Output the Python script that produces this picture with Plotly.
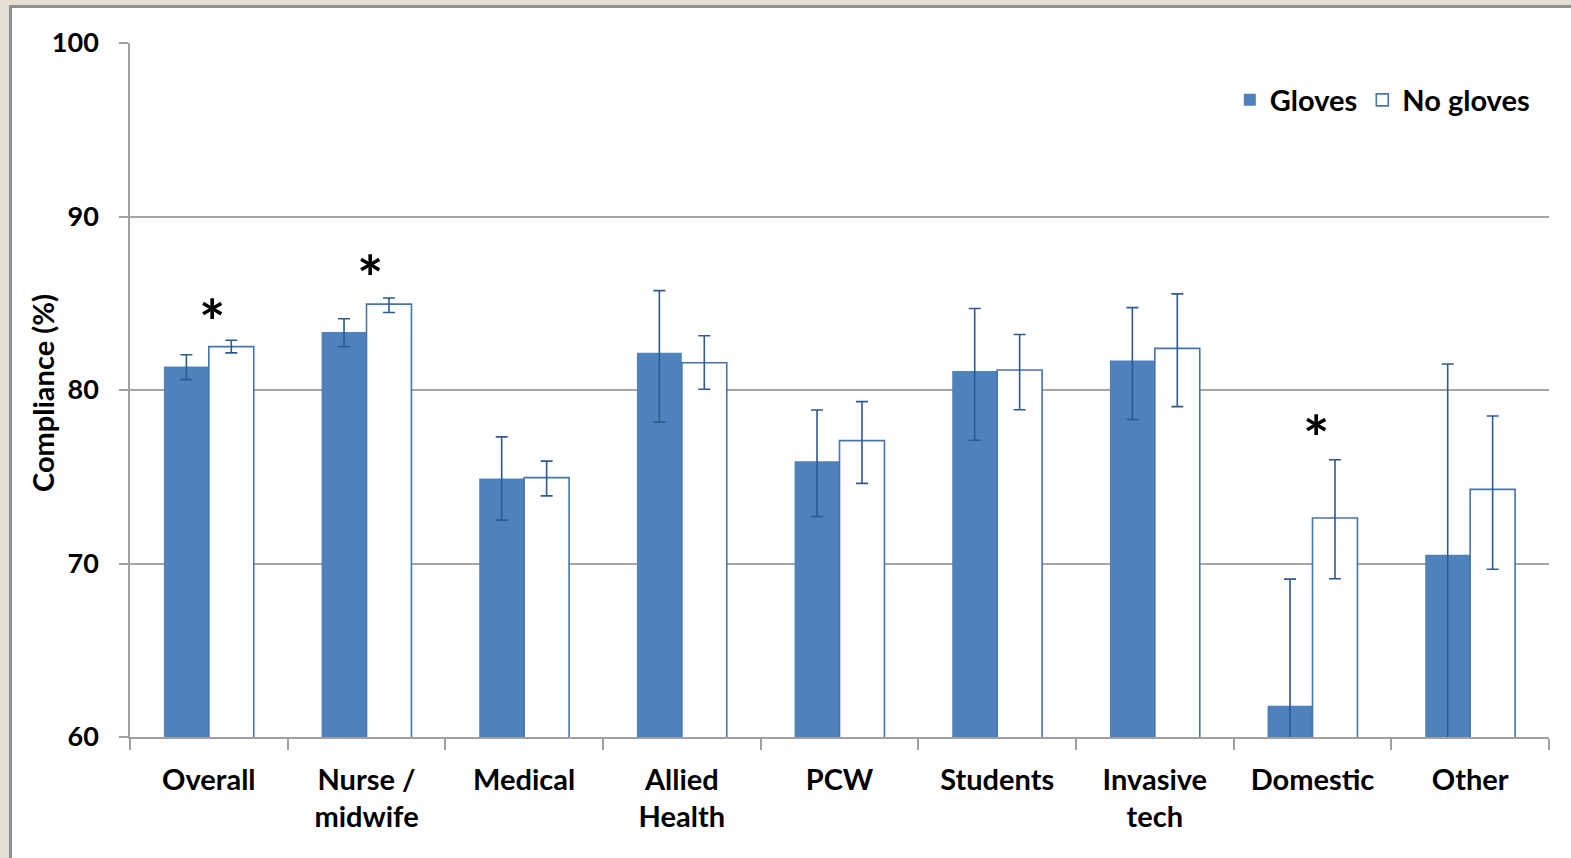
import plotly.graph_objects as go

categories = ["Overall", "Nurse /<br>midwife", "Medical", "Allied<br>Health", "PCW",
              "Students", "Invasive<br>tech", "Domestic", "Other"]
gloves = [81.35, 83.35, 74.9, 82.15, 75.9, 81.1, 81.7, 61.8, 70.5]
gloves_err_plus = [0.68, 0.76, 2.4, 3.58, 2.95, 3.6, 3.05, 7.3, 11.0]
gloves_err_minus = [0.75, 0.86, 2.4, 4.0, 3.2, 4.0, 3.4, 7.3, 11.0]
no_gloves = [82.5, 84.95, 74.95, 81.57, 77.08, 81.15, 82.4, 72.62, 74.27]
no_gloves_err_plus = [0.37, 0.35, 0.95, 1.56, 2.25, 2.05, 3.14, 3.36, 4.23]
no_gloves_err_minus = [0.36, 0.48, 1.05, 1.53, 2.46, 2.29, 3.36, 3.5, 4.6]
sig_categories = ["Overall", "Nurse /<br>midwife", "Domestic"]
sig_y = [84.0, 86.5, 77.3]

FONT = "Lato"
BLUE = "#4F81BD"
ERR = "#2E5A91"

fig = go.Figure()
fig.add_trace(go.Bar(
    x=categories, y=gloves, name="Gloves",
    marker=dict(color=BLUE, line=dict(color=BLUE, width=0)),
    error_y=dict(type="data", array=gloves_err_plus, arrayminus=gloves_err_minus,
                 color=ERR, thickness=1.6, width=6),
))
fig.add_trace(go.Bar(
    x=categories, y=no_gloves, name="No gloves",
    marker=dict(color="white", line=dict(color="#4674AB", width=1.6)),
    error_y=dict(type="data", array=no_gloves_err_plus, arrayminus=no_gloves_err_minus,
                 color=ERR, thickness=1.6, width=6),
))

for c, yv in zip(sig_categories, sig_y):
    fig.add_annotation(x=c, y=yv, text="*", showarrow=False, xshift=3,
                       font=dict(family=FONT, size=62, color="black", weight="bold"),
                       yanchor="middle")

fig.add_annotation(xref="paper", yref="paper", x=(42 - 130) / 1419, y=(737 - 393) / 694,
                   xanchor="center", yanchor="middle", text="Compliance (%)",
                   textangle=-90, showarrow=False,
                   font=dict(family=FONT, size=29, color="black", weight="bold"))

# outer frame
fig.add_shape(type="rect", xref="paper", yref="paper", layer="below",
              x0=(10.5 - 130) / 1419, x1=(1580 - 130) / 1419,
              y0=(737 - 870) / 694, y1=(737 - 6.5) / 694,
              fillcolor="white", line=dict(color="#8F8F8F", width=3))

fig.update_layout(
    width=1571, height=858,
    margin=dict(l=130, r=22, t=43, b=121),
    paper_bgcolor="#E6DED3",
    plot_bgcolor="white",
    barmode="group", bargap=0.43, bargroupgap=0,
    showlegend=True,
    legend=dict(orientation="h", x=0.99, xanchor="right", y=(737 - 100) / 694, yanchor="middle",
                font=dict(family=FONT, size=29, color="black", weight="bold"),
                bgcolor="rgba(0,0,0,0)", itemwidth=30),
    font=dict(family=FONT, color="black"),
)
fig.update_xaxes(
    showline=True, linecolor="#A0A0A0", linewidth=1.5,
    ticks="outside", ticklen=11, tickcolor="#A0A0A0", tickwidth=1.5,
    tickson="boundaries", showgrid=False,
    tickfont=dict(family=FONT, size=29, color="black", weight="bold"),
    ticklabelstandoff=16,
)
fig.update_yaxes(
    range=[60, 100], dtick=10, tick0=60,
    showline=True, linecolor="#A0A0A0", linewidth=1.5,
    ticks="outside", ticklen=9, tickcolor="#A0A0A0", tickwidth=1.5,
    showgrid=True, gridcolor="#A6A6A6", gridwidth=1.5, zeroline=False,
    tickfont=dict(family=FONT, size=27, color="black", weight="bold"),
    ticklabelstandoff=15,
)

fig.write_html("out.html", config={"displayModeBar": False},
               post_script="document.body.style.margin='0';document.body.style.padding='0';")
